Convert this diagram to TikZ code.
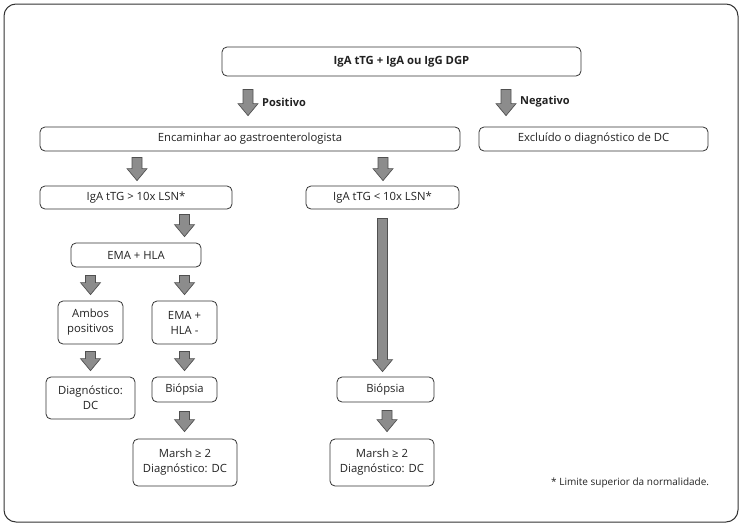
\documentclass[tikz,border=0pt]{standalone}
\usepackage{fontspec}
\setmainfont{Open Sans}
\usetikzlibrary{calc}
\definecolor{boxline}{HTML}{333333}
\definecolor{arrfill}{HTML}{8C8C8C}
\definecolor{arrline}{HTML}{505050}
\definecolor{txt}{HTML}{222222}
\tikzset{
  box/.style={draw=boxline, line width=0.8pt, rounded corners=5pt, align=center,
    inner sep=0pt, text=txt, font=\fontsize{11.3}{15}\selectfont},
  lbl/.style={anchor=west, text=txt, inner sep=0pt, font=\fontsize{11}{13}\selectfont\bfseries},
  barrow/.style={draw=arrline, fill=arrfill, line width=0.7pt, line join=miter,
    to path={let \p1=(\tikztostart), \p2=(\tikztotarget) in
      (\x1-5pt,\y1) -- (\x1+5pt,\y1) -- (\x1+5pt,\y2+12pt) -- (\x1+10pt,\y2+12pt)
      -- (\x1,\y2) -- (\x1-10pt,\y2+12pt) -- (\x1-5pt,\y2+12pt) -- cycle}},
}
\begin{document}
\begin{tikzpicture}[x=1pt,y=-1pt]
\useasboundingbox (0,0) rectangle (742,525);
\draw[boxline, line width=1pt, rounded corners=12pt] (4,4) rectangle (738,522);

\node[box, minimum width=359, minimum height=29, font=\fontsize{11.3}{15}\selectfont\bfseries] (top) at (401.5,61.5) {IgA tTG + IgA ou IgG DGP};
\node[box, minimum width=420, minimum height=24] (enc) at (250,139) {Encaminhar ao gastroenterologista};
\node[box, minimum width=229, minimum height=24] (exc) at (593.5,139) {Excluído o diagnóstico de DC};
\node[box, minimum width=192, minimum height=23] (gt) at (136,197.5) {IgA tTG > 10x LSN*};
\node[box, minimum width=153, minimum height=23] (lt) at (382.5,197.5) {IgA tTG < 10x LSN*};
\node[box, minimum width=130, minimum height=24] (ema) at (136,255) {EMA + HLA};
\node[box, minimum width=65, minimum height=43] (amb) at (90.5,322.5) {Ambos\\positivos};
\node[box, minimum width=65, minimum height=43] (eneg) at (184.5,322.5) {EMA +\\HLA -};
\node[box, minimum width=89, minimum height=42] (diag) at (90.5,398) {Diagnóstico:\\DC};
\node[box, minimum width=65, minimum height=25] (bio1) at (184.5,389.5) {Biópsia};
\node[box, minimum width=97, minimum height=25] (bio2) at (385.5,389.5) {Biópsia};
\node[box, minimum width=104, minimum height=47] (m1) at (185,462.5) {Marsh ≥ 2\\Diagnóstico: DC};
\node[box, minimum width=104, minimum height=47] (m2) at (382,462.5) {Marsh ≥ 2\\Diagnóstico: DC};

\node[lbl] (pos) at (262,102) {Positivo};
\node[lbl] (neg) at (520,102) {Negativo};
\node[anchor=west, inner sep=0pt, text=txt, font=\fontsize{10}{12}\selectfont] (fn) at (551,483) {* Limite superior da normalidade.};

\coordinate (px) at (248,0);
\coordinate (nx) at (506,0);
\coordinate (ax) at (137,0);
\coordinate (bx) at (383,0);
\coordinate (cx) at (387,0);

\draw[barrow] ($(top.south -| px)+(0,13)$) to ($(enc.north -| px)+(0,-11)$);
\draw[barrow] ($(top.south -| nx)+(0,13)$) to ($(exc.north -| nx)+(0,-11)$);
\draw[barrow] ($(enc.south -| ax)+(0,6)$) to ($(gt.north -| ax)+(0,-5)$);
\draw[barrow] ($(enc.south -| bx)+(0,6)$) to ($(lt.north -| bx)+(0,-5)$);
\draw[barrow] ($(gt.south -| eneg.north)+(0,5)$) to ($(ema.north -| eneg.north)+(0,-6)$);
\draw[barrow] ($(ema.south -| amb.north)+(0,8)$) to ($(amb.north)+(0,-6)$);
\draw[barrow] ($(ema.south -| eneg.north)+(0,8)$) to ($(eneg.north)+(0,-6)$);
\draw[barrow] ($(amb.south)+(0,7)$) to ($(diag.north -| amb.south)+(0,-6)$);
\draw[barrow] ($(eneg.south)+(0,7)$) to ($(bio1.north)+(0,-6)$);
\draw[barrow] ($(bio1.south)+(0,9)$) to ($(m1.north -| bio1.south)+(0,-7)$);
\draw[barrow] ($(lt.south)+(0,9)$) to ($(bio2.north -| lt.south)+(0,-5)$);
\draw[barrow] ($(bio2.south -| cx)+(0,8)$) to ($(m2.north -| cx)+(0,-7)$);
\end{tikzpicture}
\end{document}
